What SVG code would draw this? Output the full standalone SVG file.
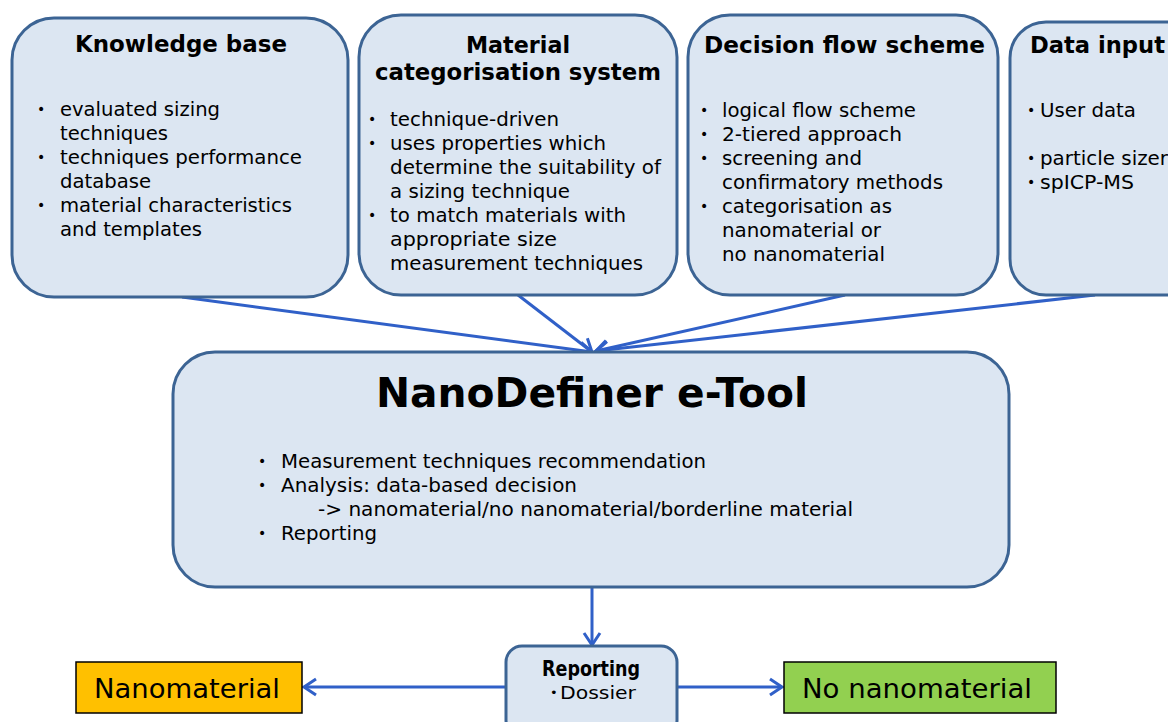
<svg xmlns="http://www.w3.org/2000/svg" width="1168" height="722" viewBox="0 0 1168 722">
<defs>
<marker id="arr" markerUnits="userSpaceOnUse" markerWidth="20" markerHeight="20" viewBox="0 0 20 20" refX="17" refY="10" orient="auto">
<path d="M5,2 L17,10 L5,18" fill="none" stroke="#3060c8" stroke-width="3" stroke-linejoin="miter"/>
</marker>
<style>
.box{fill:#dce6f2;stroke:#3c6494;stroke-width:3}
.t{font-family:"DejaVu Sans","Verdana",sans-serif;fill:#000}
.h{font-weight:bold;font-size:23px}
.b{font-size:20px}
.d{font-size:14px}
.c{stroke:#3060c8;stroke-width:3;fill:none;marker-end:url(#arr)}
</style>
</defs>
<rect width="1168" height="722" fill="#fff"/>
<g id="connectors">
<line class="c" x1="182" y1="297" x2="592" y2="352"/>
<line class="c" x1="518" y1="295" x2="592" y2="352"/>
<line class="c" x1="845" y1="295" x2="596" y2="351"/>
<line class="c" x1="1095" y1="295" x2="596" y2="351"/>
<line class="c" x1="592" y1="587" x2="592" y2="645"/>
<line class="c" x1="506" y1="687" x2="304" y2="687"/>
<line class="c" x1="677" y1="687" x2="782" y2="687"/>
</g>
<g id="knowledge">
<rect class="box" x="12" y="18" width="336" height="279" rx="42"/>
<text class="t h" x="75" y="52" textLength="212" lengthAdjust="spacingAndGlyphs">Knowledge base</text>
<g class="t b">
<text class="d" x="37" y="114">•</text><text x="60" y="116" textLength="160" lengthAdjust="spacingAndGlyphs">evaluated sizing</text>
<text x="60" y="140" textLength="108" lengthAdjust="spacingAndGlyphs">techniques</text>
<text class="d" x="37" y="162">•</text><text x="60" y="164" textLength="242" lengthAdjust="spacingAndGlyphs">techniques performance</text>
<text x="60" y="188" textLength="91" lengthAdjust="spacingAndGlyphs">database</text>
<text class="d" x="37" y="210">•</text><text x="60" y="212" textLength="232" lengthAdjust="spacingAndGlyphs">material characteristics</text>
<text x="60" y="236" textLength="142" lengthAdjust="spacingAndGlyphs">and templates</text>
</g>
</g>
<g id="material">
<rect class="box" x="359" y="15" width="318" height="280" rx="42"/>
<text class="t h" x="518" y="53" text-anchor="middle" textLength="104" lengthAdjust="spacingAndGlyphs">Material</text>
<text class="t h" x="518" y="80" text-anchor="middle" textLength="286" lengthAdjust="spacingAndGlyphs">categorisation system</text>
<g class="t b">
<text class="d" x="368" y="124">•</text><text x="390" y="126" textLength="169" lengthAdjust="spacingAndGlyphs">technique-driven</text>
<text class="d" x="368" y="148">•</text><text x="390" y="150" textLength="216" lengthAdjust="spacingAndGlyphs">uses properties which</text>
<text x="390" y="174" textLength="271" lengthAdjust="spacingAndGlyphs">determine the suitability of</text>
<text x="390" y="198" textLength="180" lengthAdjust="spacingAndGlyphs">a sizing technique</text>
<text class="d" x="368" y="220">•</text><text x="390" y="222" textLength="236" lengthAdjust="spacingAndGlyphs">to match materials with</text>
<text x="390" y="246" textLength="167" lengthAdjust="spacingAndGlyphs">appropriate  size</text>
<text x="390" y="270" textLength="253" lengthAdjust="spacingAndGlyphs">measurement techniques</text>
</g>
</g>
<g id="decision">
<rect class="box" x="688" y="15" width="310" height="280" rx="42"/>
<text class="t h" x="704" y="53" textLength="281" lengthAdjust="spacingAndGlyphs">Decision flow scheme</text>
<g class="t b">
<text class="d" x="700" y="115">•</text><text x="722" y="117" textLength="194" lengthAdjust="spacingAndGlyphs">logical flow scheme</text>
<text class="d" x="700" y="139">•</text><text x="722" y="141" textLength="180" lengthAdjust="spacingAndGlyphs">2-tiered approach</text>
<text class="d" x="700" y="163">•</text><text x="722" y="165" textLength="140" lengthAdjust="spacingAndGlyphs">screening and</text>
<text x="722" y="189" textLength="221" lengthAdjust="spacingAndGlyphs">confirmatory methods</text>
<text class="d" x="700" y="211">•</text><text x="722" y="213" textLength="170" lengthAdjust="spacingAndGlyphs">categorisation as</text>
<text x="722" y="237" textLength="159" lengthAdjust="spacingAndGlyphs">nanomaterial or</text>
<text x="722" y="261" textLength="163" lengthAdjust="spacingAndGlyphs">no nanomaterial</text>
</g>
</g>
<g id="datainput">
<rect class="box" x="1010" y="22" width="200" height="273" rx="36"/>
<text class="t h" x="1030" y="53" textLength="135" lengthAdjust="spacingAndGlyphs">Data input</text>
<g class="t b">
<text class="d" x="1027" y="115">•</text><text x="1040" y="117" textLength="96" lengthAdjust="spacingAndGlyphs">User data</text>
<text class="d" x="1027" y="163">•</text><text x="1040" y="165" textLength="128" lengthAdjust="spacingAndGlyphs">particle sizer</text>
<text class="d" x="1027" y="187">•</text><text x="1040" y="189" textLength="94" lengthAdjust="spacingAndGlyphs">spICP-MS</text>
</g>
</g>
<g id="nanodefiner">
<rect class="box" x="173" y="352" width="836" height="235" rx="42"/>
<text class="t" x="376" y="407" font-weight="bold" font-size="40" textLength="432" lengthAdjust="spacingAndGlyphs">NanoDefiner e-Tool</text>
<g class="t b">
<text class="d" x="258" y="466">•</text><text x="281" y="468" textLength="425" lengthAdjust="spacingAndGlyphs">Measurement techniques recommendation</text>
<text class="d" x="258" y="490">•</text><text x="281" y="492" textLength="296" lengthAdjust="spacingAndGlyphs">Analysis:  data-based decision</text>
<text x="318" y="516" textLength="535" lengthAdjust="spacingAndGlyphs">-&gt; nanomaterial/no nanomaterial/borderline material</text>
<text class="d" x="258" y="538">•</text><text x="281" y="540" textLength="96" lengthAdjust="spacingAndGlyphs">Reporting</text>
</g>
</g>
<g id="reporting">
<rect class="box" x="506" y="646" width="171" height="90" rx="16"/>
<text class="t" x="591" y="676" text-anchor="middle" font-weight="bold" font-size="22" textLength="98" lengthAdjust="spacingAndGlyphs">Reporting</text>
<text class="t" x="550" y="697" font-size="13">•</text>
<text class="t" x="560" y="699" font-size="18" textLength="76" lengthAdjust="spacingAndGlyphs">Dossier</text>
</g>
<g id="nanomaterial">
<rect x="76" y="662" width="226" height="51" fill="#ffc000" stroke="#000" stroke-width="1.5"/>
<text class="t" x="94" y="698" font-size="27" textLength="186" lengthAdjust="spacingAndGlyphs">Nanomaterial</text>
</g>
<g id="nonanomaterial">
<rect x="784" y="662" width="272" height="51" fill="#92d050" stroke="#000" stroke-width="1.5"/>
<text class="t" x="802" y="698" font-size="27" textLength="230" lengthAdjust="spacingAndGlyphs">No nanomaterial</text>
</g>
</svg>
